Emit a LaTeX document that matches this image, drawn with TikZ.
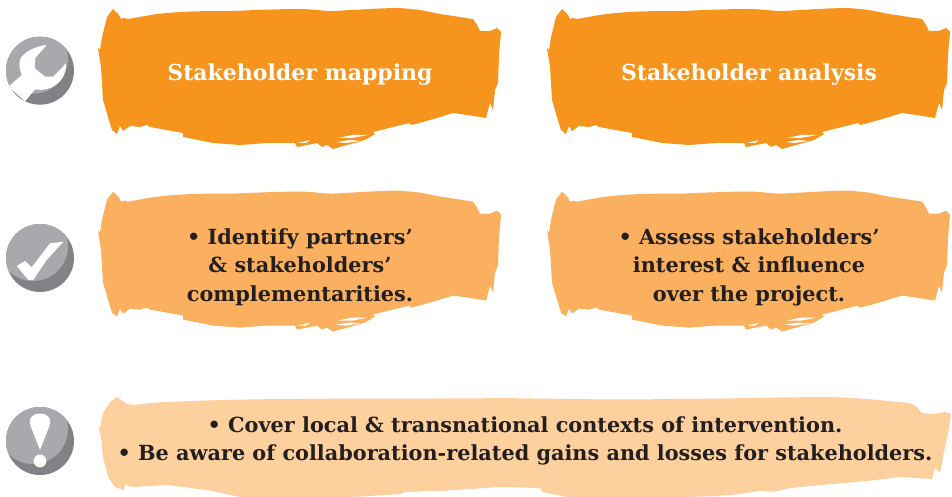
\documentclass[tikz,border=0pt]{standalone}
\usepackage{fontspec}
\setmainfont{DejaVu Serif}[BoldFont={DejaVu Serif Bold}]
\definecolor{orA}{HTML}{F7941E}
\definecolor{orB}{HTML}{FBB05F}
\definecolor{orC}{HTML}{FDD09E}
\definecolor{inkD}{HTML}{231F20}
\definecolor{grD}{HTML}{808285}
\definecolor{grL}{HTML}{A7A9AC}
\def\blobpath{(113,9) -- (119,15) -- (121,19) -- (124,18) -- (128,19) .. controls (145,16) and (155,14) .. (167,13) .. controls (190,11) and (210,11) .. (233,11) .. controls (255,10) and (280,9) .. (300,9) .. controls (312,9) and (322,11) .. (333,11) .. controls (355,10) and (380,8) .. (400,8) -- (420,10) -- (440,14) -- (473,19) -- (477,25) -- (480,31) -- (490,31) -- (497,28) -- (501,32) -- (499,55) -- (498,83) -- (495,90) -- (493,110) -- (490,103) -- (486,118) -- (467,115) -- (453,113) -- (440,117) -- (423,122) -- (411,125) -- (409,123) -- (373,132) -- (375,134) -- (365,140) -- (340,147) -- (333,149) -- (327,145) -- (322,147) -- (317,143) -- (307,145) -- (297,147) -- (295,143) -- (267,143) -- (240,145) -- (213,143) -- (183,137) -- (183,133) -- (150,127) -- (147,125) -- (140,127) -- (130,126) -- (123,131) -- (120,126) -- (117,134) -- (112,130) -- (108,117) -- (103,100) -- (101,67) -- (98,48) -- (100,50) -- (102,37) -- (107,17) -- cycle}
\tikzset{
  x=1pt,y=-1pt,
  txt/.style={font=\fontsize{20.8}{28.5}\selectfont\bfseries,align=center,inner sep=0pt,text=inkD},
  head/.style={txt,font=\fontsize{22}{28.5}\selectfont\bfseries,text=white},
  sliver/.style={fill=white,draw=none},
  pics/blob/.style={code={
    \fill[#1] \blobpath;
    \fill[sliver] (338,138) -- (352,135) -- (368,135) -- (352,138) -- cycle;
    \fill[sliver] (336,142) -- (350,140) -- (360,141) -- (345,143) -- cycle;
    \fill[sliver] (298,143) -- (310,140) -- (306,143) -- cycle;
  }},
  pics/disc/.style={code={
    \fill[grD] (0,0) circle[radius=34];
    \begin{scope}
      \clip (0,0) circle[radius=34];
      \fill[grL] (-7,-12) circle[radius=35];
    \end{scope}
  }}
}
\begin{document}
\begin{tikzpicture}
\useasboundingbox (0,0) rectangle (952,497);
% top row
\pic at (0,0) {blob=orA};
\pic at (449,0) {blob=orA};
% middle row
\begin{scope}[shift={(0,193)},yscale=1.157,shift={(0,-9)}]
  \pic at (0,0) {blob=orB};
  \pic at (449,0) {blob=orB};
\end{scope}
% bottom band
\fill[orC] (117,397) -- (127,404) -- (135,405) -- (150,403) .. controls (200,400) and (260,399) .. (300,399) .. controls (400,398) and (450,399) .. (500,398) .. controls (567,399) and (620,400) .. (667,399) .. controls (720,399) and (780,397) .. (833,397) -- (867,399) -- (910,403) -- (917,407) -- (922,413) -- (933,414) -- (945,412) -- (951,414) -- (948,433) -- (943,457) -- (940,473) -- (935,468) -- (932,479) -- (900,477) -- (867,481) -- (833,484) -- (790,488) -- (787,489) -- (767,493) -- (740,494) -- (717,496) -- (687,497) -- (567,497) -- (542,492) -- (540,488) -- (500,487) -- (440,491) -- (405,492) -- (400,494) -- (353,497) -- (240,497) -- (207,490) -- (167,485) -- (133,487) -- (125,485) -- (124,490) -- (115,487) -- (108,477) -- (103,457) -- (101,437) -- (98,427) -- (100,428) -- (103,413) -- (110,402) -- cycle;
\fill[sliver] (404,494) -- (425,491) -- (440,492) -- (420,494) -- cycle;
\fill[sliver] (740,494) -- (760,491) -- (775,492) -- (755,495) -- cycle;
% icons
\pic at (40,70.7) {disc};
\pic at (40,258) {disc};
\pic at (40,441) {disc};
% wrench
\begin{scope}[shift={(40,70.7)},x=0.333pt,y=-0.333pt]
  \begin{scope}
    \clip (0,0) circle[radius=102];
    \fill[white] (-95,48) -- (-45,92) -- (-15,56) .. controls (30,65) and (80,35) .. (78,-22) -- (40,18) -- (15,18) -- (-15,-7) -- (-15,-37) -- (20,-77) .. controls (-20,-75) and (-60,-45) .. (-60,-32) .. controls (-64,-15) and (-60,0) .. (-55,13) -- cycle;
  \end{scope}
\end{scope}
% check mark
\begin{scope}[shift={(40,258)},x=0.333pt,y=-0.333pt]
  \fill[white] (-70,24) -- (-45,9) -- (-25,28) -- (30,-44) -- (70,-49) -- (20,6) -- (-20,66) -- (-35,66) -- cycle;
\end{scope}
% exclamation mark
\begin{scope}[shift={(40,441)}]
  \fill[white] (0,9) -- (-9,-14) .. controls (-13,-24) and (-6,-27.5) .. (0,-27.5) .. controls (6,-27.5) and (13,-24) .. (9,-14) -- cycle;
  \fill[white] (0,20) circle[radius=6.4];
\end{scope}
% texts
\node[head] (ta) at (300,75) {Stakeholder mapping};
\node[head] (tb) at (749,75) {Stakeholder analysis};
\node[txt] (tc) at (300,267) {• Identify partners’\\\& stakeholders’\\complementarities.};
\node[txt] (td) at (749,267) {• Assess stakeholders’\\interest \& influence\\over the project.};
\node[txt] (te) at (525,441) {• Cover local \& transnational contexts of intervention.\\• Be aware of collaboration-related gains and losses for stakeholders.};
\end{tikzpicture}
\end{document}
